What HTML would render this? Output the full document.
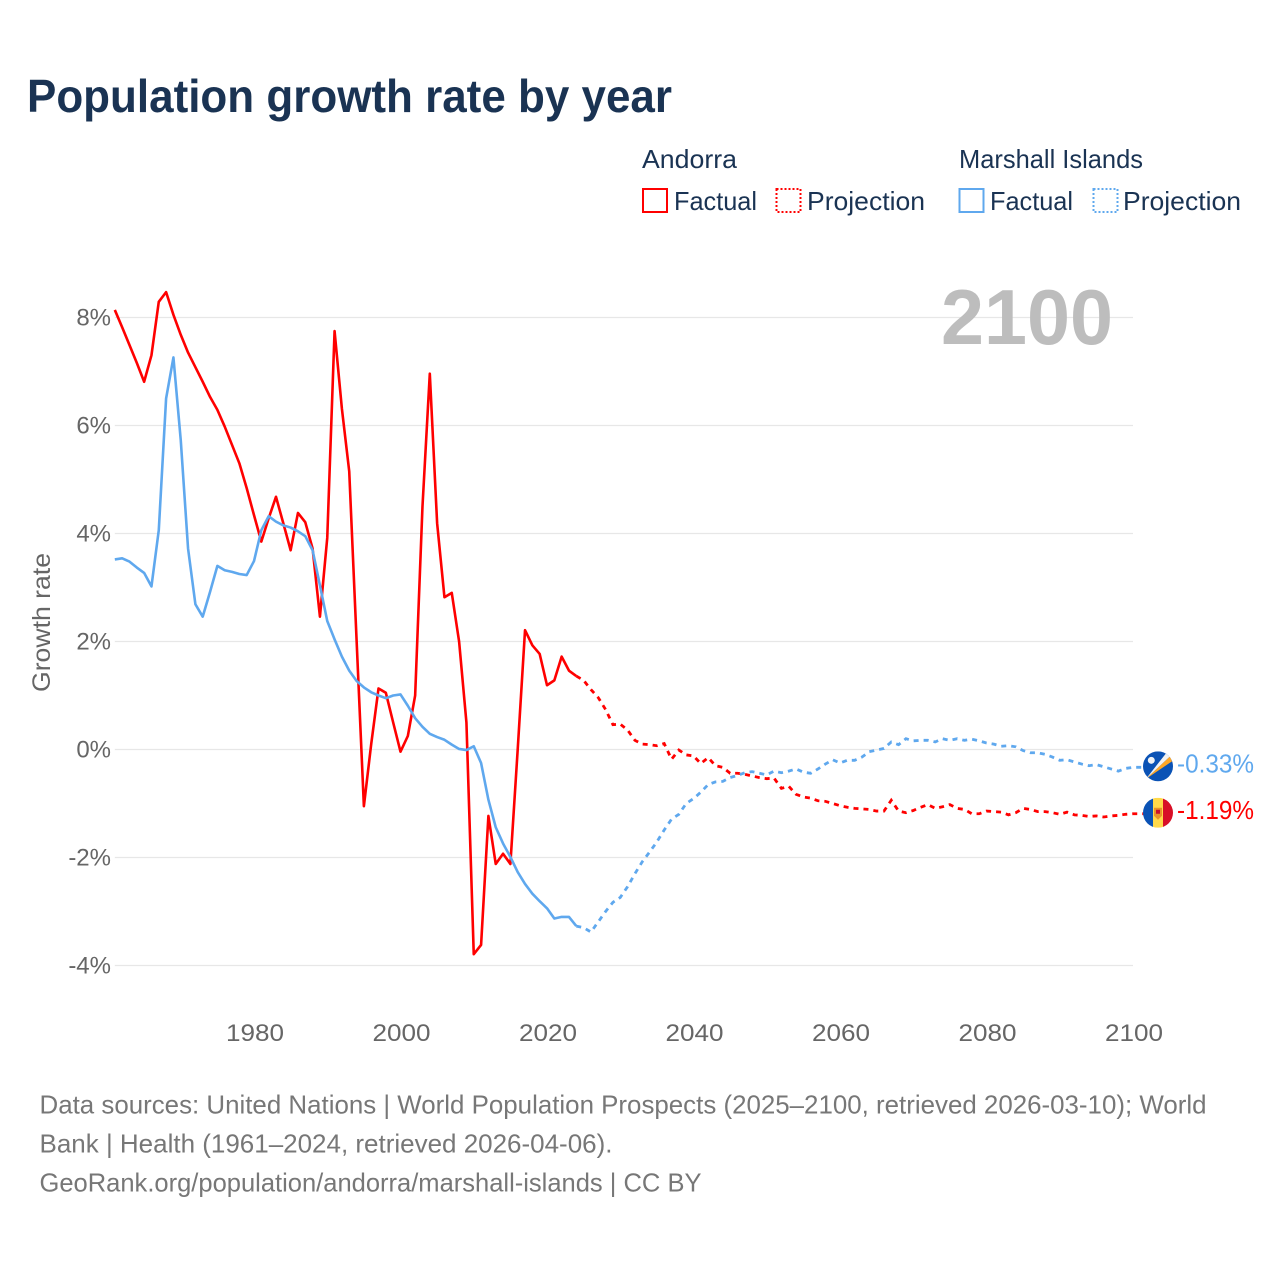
<!DOCTYPE html>
<html lang="en">
<head>
<meta charset="utf-8">
<title>Population growth rate by year</title>
<style>
html,body{margin:0;padding:0;background:#fff;width:1280px;height:1280px;overflow:hidden}
svg{display:block}
text{font-family:"Liberation Sans",sans-serif}
.legend{fill:#1a3353;font-size:26px}
.tick{fill:#666;font-size:24px}
.foot{fill:#777;font-size:26px}
</style>
</head>
<body>
<svg id="chart" width="1280" height="1280" viewBox="0 0 1280 1280" xmlns="http://www.w3.org/2000/svg">
  <rect width="1280" height="1280" fill="#fff"/>
  <text x="27" y="112" font-size="46" font-weight="bold" fill="#1a3353" textLength="645" lengthAdjust="spacingAndGlyphs">Population growth rate by year</text>

  <g>
    <text class="legend" x="642" y="168" textLength="95" lengthAdjust="spacingAndGlyphs">Andorra</text>
    <rect x="643" y="189" width="24" height="23" fill="none" stroke="#ff0000" stroke-width="2"/>
    <text class="legend" x="674" y="210" textLength="83" lengthAdjust="spacingAndGlyphs">Factual</text>
    <rect x="776.5" y="189" width="24" height="23" fill="none" stroke="#ff0000" stroke-width="2" stroke-dasharray="2 2"/>
    <text class="legend" x="807" y="210" textLength="118" lengthAdjust="spacingAndGlyphs">Projection</text>
    <text class="legend" x="959" y="168" textLength="184" lengthAdjust="spacingAndGlyphs">Marshall Islands</text>
    <rect x="959.5" y="189" width="24" height="23" fill="none" stroke="#5fa8ee" stroke-width="2"/>
    <text class="legend" x="990" y="210" textLength="83" lengthAdjust="spacingAndGlyphs">Factual</text>
    <rect x="1093.5" y="189" width="24" height="23" fill="none" stroke="#5fa8ee" stroke-width="2" stroke-dasharray="2 2"/>
    <text class="legend" x="1123" y="210" textLength="118" lengthAdjust="spacingAndGlyphs">Projection</text>
  </g>

  <g id="grid"></g>
  <text x="941" y="344" font-size="78" font-weight="bold" fill="#bdbdbd" textLength="172" lengthAdjust="spacingAndGlyphs">2100</text>
  <text transform="translate(50,692) rotate(-90)" font-size="25" fill="#666" textLength="139" lengthAdjust="spacingAndGlyphs">Growth rate</text>
  <g id="yticks"></g>
  <g id="xticks"></g>
  <g id="series"></g>
  <g id="ends"></g>

  <defs>
    <clipPath id="flagClip"><circle cx="0" cy="0" r="15"/></clipPath>
  </defs>
  <g id="flag-mh" clip-path="url(#flagClip)">
    <rect x="-15" y="-15" width="30" height="30" fill="#0a52b5"/>
    <polygon points="-12,12.5 12,-10 14,-5" fill="#ffa726"/>
    <polygon points="-12,12.5 8,-13 12,-10" fill="#f2f2f2"/>
    <circle cx="-6.7" cy="-6" r="3.5" fill="#eef2f6"/>
  </g>
  <g id="flag-ad" clip-path="url(#flagClip)">
    <rect x="-15" y="-15" width="10" height="30" fill="#0a52b5"/>
    <rect x="-5" y="-15" width="10" height="30" fill="#ffd94a"/>
    <rect x="5" y="-15" width="10" height="30" fill="#d80f27"/>
    <path d="M-4,-5 H4 V3 L0,7 L-4,3 Z" fill="#e8932a"/>
    <rect x="-2" y="-3" width="4" height="4" fill="#c8102e"/>
  </g>

  <g>
    <text class="foot" x="39.5" y="1113.5" textLength="1167" lengthAdjust="spacingAndGlyphs">Data sources: United Nations | World Population Prospects (2025–2100, retrieved 2026-03-10); World</text>
    <text class="foot" x="39.5" y="1152.5" textLength="573" lengthAdjust="spacingAndGlyphs">Bank | Health (1961–2024, retrieved 2026-04-06).</text>
    <text class="foot" x="39.5" y="1191.5" textLength="662" lengthAdjust="spacingAndGlyphs">GeoRank.org/population/andorra/marshall-islands | CC BY</text>
  </g>
</svg>
<script>
var factualStartYear = 1961;
var projectionStartYear = 2025;
var yTickValues = [8, 6, 4, 2, 0, -2, -4];
var xTickYears = [1980, 2000, 2020, 2040, 2060, 2080, 2100];
var andorraFactual = [
  8.14,7.82,7.49,7.16,6.81,7.30,8.29,8.47,8.05,7.68,
  7.35,7.08,6.81,6.53,6.29,5.98,5.64,5.30,4.84,4.34,
  3.85,4.28,4.68,4.19,3.69,4.38,4.21,3.72,2.46,3.92,
  7.75,6.31,5.15,2.04,-1.05,0.10,1.13,1.05,0.50,-0.04,
  0.25,1.00,4.50,6.96,4.19,2.82,2.90,2.00,0.50,-3.79,
  -3.62,-1.23,-2.12,-1.93,-2.12,0.00,2.21,1.93,1.77,1.19,
  1.28,1.72,1.46,1.36
];
var andorraProjection = [
  1.28,1.11,0.96,0.74,0.46,0.47,0.36,0.17,0.10,0.09,
  0.07,0.11,-0.18,-0.01,-0.10,-0.12,-0.26,-0.15,-0.30,-0.33,
  -0.44,-0.44,-0.46,-0.49,-0.52,-0.54,-0.53,-0.72,-0.68,-0.83,
  -0.88,-0.90,-0.95,-0.96,-1.00,-1.04,-1.07,-1.09,-1.10,-1.11,
  -1.14,-1.14,-0.94,-1.14,-1.17,-1.13,-1.07,-1.02,-1.09,-1.06,
  -1.02,-1.09,-1.11,-1.19,-1.19,-1.14,-1.15,-1.16,-1.21,-1.17,
  -1.09,-1.11,-1.15,-1.15,-1.17,-1.20,-1.16,-1.21,-1.22,-1.24,
  -1.23,-1.25,-1.23,-1.22,-1.20,-1.19
];
var marshallFactual = [
  3.52,3.54,3.48,3.37,3.27,3.02,4.06,6.50,7.26,5.73,
  3.72,2.69,2.46,2.92,3.40,3.32,3.29,3.25,3.23,3.49,
  4.06,4.32,4.22,4.15,4.11,4.04,3.95,3.69,3.04,2.38,
  2.04,1.72,1.46,1.27,1.15,1.06,1.00,0.95,1.00,1.02,
  0.81,0.58,0.42,0.29,0.23,0.18,0.09,0.01,-0.01,0.06,
  -0.25,-0.93,-1.44,-1.74,-1.99,-2.27,-2.49,-2.67,-2.81,-2.94,
  -3.13,-3.10,-3.10,-3.27
];
var marshallProjection = [
  -3.30,-3.38,-3.19,-3.00,-2.83,-2.74,-2.54,-2.30,-2.08,-1.90,
  -1.71,-1.49,-1.29,-1.20,-1.00,-0.91,-0.79,-0.65,-0.60,-0.59,
  -0.52,-0.48,-0.43,-0.41,-0.44,-0.47,-0.40,-0.43,-0.40,-0.36,
  -0.42,-0.44,-0.36,-0.27,-0.19,-0.25,-0.20,-0.20,-0.14,-0.04,
  -0.01,0.02,0.14,0.09,0.20,0.16,0.17,0.17,0.14,0.20,
  0.17,0.20,0.17,0.19,0.16,0.12,0.10,0.06,0.07,0.05,
  -0.02,-0.06,-0.06,-0.09,-0.14,-0.20,-0.19,-0.23,-0.27,-0.30,
  -0.28,-0.32,-0.36,-0.40,-0.35,-0.33
];

var NS = 'http://www.w3.org/2000/svg';
var RED = '#ff0000';
var BLUE = '#5fa8ee';
function xScale(year) { return 254 + (year - 1980) * 7.325; }
function yScale(value) { return 749.5 - value * 54; }
function make(tag, attrs, parent) {
  var el = document.createElementNS(NS, tag);
  for (var k in attrs) { el.setAttribute(k, attrs[k]); }
  parent.appendChild(el);
  return el;
}
function pointsFor(values, startYear) {
  return values.map(function (v, i) {
    return xScale(startYear + i).toFixed(2) + ',' + yScale(v).toFixed(2);
  });
}

var gridGroup = document.getElementById('grid');
var yTickGroup = document.getElementById('yticks');
yTickValues.forEach(function (v) {
  var line = make('line', { x1: xScale(1961), x2: xScale(2100), y1: yScale(v), y2: yScale(v), stroke: '#e7e7e7', 'stroke-width': 1.3 }, gridGroup);
  
  
  var label = make('text', { x: 111, y: yScale(v) + 8, 'text-anchor': 'end', 'class': 'tick' }, yTickGroup);
  label.textContent = v + '%';
  
  
});

var xTickGroup = document.getElementById('xticks');
xTickYears.forEach(function (year) {
  var label = make('text', { x: xScale(year) - 28, y: 1041, 'class': 'tick', textLength: 58, lengthAdjust: 'spacingAndGlyphs' }, xTickGroup);
  label.textContent = String(year);
  
  
});

var seriesGroup = document.getElementById('series');
function drawSeries(name, factual, projection, color) {
  var solid = make('polyline', { points: pointsFor(factual, factualStartYear).join(' '), fill: 'none', stroke: color, 'stroke-width': 2.6, 'stroke-linejoin': 'round' }, seriesGroup);
  
  
  var lastFactual = factual[factual.length - 1];
  var pts = [xScale(projectionStartYear - 1).toFixed(2) + ',' + yScale(lastFactual).toFixed(2)].concat(pointsFor(projection, projectionStartYear));
  var lastValue = projection[projection.length - 1];
  pts.push('1145,' + yScale(lastValue).toFixed(2));
  var dashed = make('polyline', { points: pts.join(' '), fill: 'none', stroke: color, 'stroke-width': 2.8, 'stroke-dasharray': '5 5' }, seriesGroup);
  
  
}
drawSeries('andorra', andorraFactual, andorraProjection, RED);
drawSeries('marshall-islands', marshallFactual, marshallProjection, BLUE);

var endGroup = document.getElementById('ends');
function placeEnd(flagId, values, color, name) {
  var v = values[values.length - 1];
  var cy = yScale(v) - 1;
  document.getElementById(flagId).setAttribute('transform', 'translate(1158,' + cy + ')');
  var label = make('text', { x: 1177, y: cy + 6, 'font-size': 26, fill: color, textLength: 77, lengthAdjust: 'spacingAndGlyphs' }, endGroup);
  label.textContent = v.toFixed(2) + '%';
  
  
}
placeEnd('flag-mh', marshallProjection, BLUE, 'marshall-islands');
placeEnd('flag-ad', andorraProjection, RED, 'andorra');
</script>
</body>
</html>
